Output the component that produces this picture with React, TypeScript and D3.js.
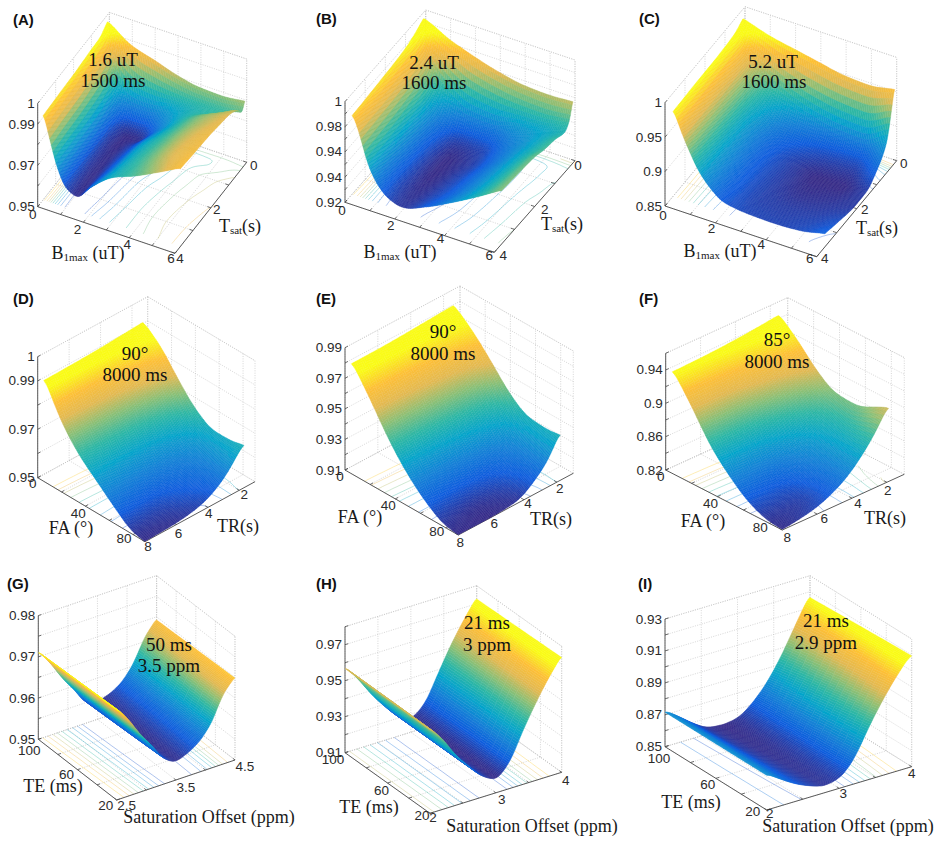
import React, { useMemo } from "react";
import * as d3 from "d3";

// ---------- shared axis values ----------
const b1Ticks = [0, 1, 2, 3, 4, 5, 6];
const b1Labels = [0, 2, 4, 6];
const tsatTicks = [0, 1, 2, 3, 4];
const tsatLabels = [0, 2, 4];
const faTicks = [0, 20, 40, 60, 80];
const faLabels = [0, 40, 80];
const trTicks = [2, 4, 6, 8];
const teTicks = [20, 40, 60, 80, 100];
const teLabels = [20, 60, 100];
const b1Grid = [0, 0.3, 0.6, 1, 1.5, 2, 3, 4, 5, 6];
const faGrid = [5, 20, 35, 50, 65, 80, 90];
const teGrid = [20, 60, 100];

// ---------- panel A ----------
const tsatA = [0.1, 0.25, 0.5, 1, 1.5, 2, 3, 3.7];
const zA = [
  [0.997, 0.9955, 0.9935, 0.991, 0.9895, 0.988, 0.984, 0.9815, 0.981, 0.982],
  [0.9965, 0.992, 0.987, 0.983, 0.9795, 0.978, 0.976, 0.975, 0.975, 0.977],
  [0.9955, 0.985, 0.976, 0.968, 0.966, 0.966, 0.9695, 0.973, 0.9755, 0.981],
  [0.995, 0.984, 0.971, 0.9605, 0.9568, 0.957, 0.966, 0.974, 0.98, 0.984],
  [0.9945, 0.983, 0.97, 0.9588, 0.9568, 0.9588, 0.9675, 0.975, 0.981, 0.985],
  [0.994, 0.982, 0.9695, 0.9588, 0.957, 0.9595, 0.9695, 0.976, 0.982, 0.986],
  [0.9935, 0.981, 0.969, 0.9592, 0.9568, 0.961, 0.971, 0.977, 0.983, 0.987],
  [0.993, 0.98, 0.9685, 0.9595, 0.957, 0.963, 0.972, 0.9765, 0.982, 0.988],
];
// ---------- panel B ----------
const tsatB = [0.1, 0.25, 0.5, 1, 1.5, 2, 3, 3.65];
const zB = [
  [0.9956, 0.994, 0.992, 0.988, 0.985, 0.982, 0.976, 0.972, 0.971, 0.972],
  [0.995, 0.989, 0.982, 0.976, 0.97, 0.965, 0.96, 0.957, 0.956, 0.958],
  [0.9935, 0.98, 0.966, 0.952, 0.943, 0.937, 0.936, 0.942, 0.946, 0.952],
  [0.9905, 0.975, 0.957, 0.94, 0.929, 0.923, 0.925, 0.935, 0.945, 0.9555],
  [0.989, 0.973, 0.955, 0.937, 0.926, 0.921, 0.924, 0.934, 0.946, 0.957],
  [0.988, 0.972, 0.953, 0.936, 0.925, 0.921, 0.925, 0.935, 0.947, 0.96],
  [0.986, 0.971, 0.951, 0.934, 0.925, 0.922, 0.927, 0.937, 0.949, 0.962],
  [0.985, 0.97, 0.95, 0.935, 0.926, 0.923, 0.93, 0.94, 0.951, 0.963],
];
// ---------- panel C ----------
const tsatC = [0.1, 0.25, 0.5, 1, 1.5, 2, 3, 3.6];
const zC = [
  [0.987, 0.985, 0.983, 0.98, 0.9775, 0.975, 0.9685, 0.961, 0.959, 0.963],
  [0.985, 0.975, 0.965, 0.955, 0.945, 0.938, 0.928, 0.922, 0.92, 0.935],
  [0.983, 0.96, 0.945, 0.928, 0.912, 0.9, 0.885, 0.877, 0.875, 0.895],
  [0.981, 0.955, 0.935, 0.913, 0.893, 0.878, 0.864, 0.858, 0.857, 0.871],
  [0.98, 0.954, 0.932, 0.906, 0.885, 0.871, 0.858, 0.852, 0.852, 0.858],
  [0.98, 0.952, 0.93, 0.904, 0.883, 0.869, 0.858, 0.853, 0.854, 0.857],
  [0.979, 0.951, 0.928, 0.902, 0.881, 0.868, 0.859, 0.858, 0.859, 0.864],
  [0.978, 0.95, 0.927, 0.9, 0.879, 0.866, 0.861, 0.86, 0.862, 0.87],
];
// ---------- panel D ----------
const trD = [1.7, 2.3, 3.2, 4.5, 6.2, 8];
const zD = [
  [0.994, 0.9885, 0.9795, 0.9715, 0.9672, 0.9675, 0.9694],
  [0.994, 0.986, 0.976, 0.9675, 0.9632, 0.963, 0.9635],
  [0.9938, 0.9845, 0.9735, 0.9645, 0.9595, 0.9575, 0.957],
  [0.9936, 0.982, 0.971, 0.9628, 0.9572, 0.9542, 0.952],
  [0.9935, 0.98, 0.97, 0.9625, 0.956, 0.9515, 0.9504],
  [0.9934, 0.979, 0.9695, 0.963, 0.9565, 0.951, 0.95],
];
// ---------- panel E ----------
const trE = [1.8, 2.3, 3.2, 4.5, 6.2, 8];
const zE = [
  [0.9854, 0.9755, 0.9635, 0.9505, 0.9425, 0.9418, 0.9442],
  [0.9852, 0.974, 0.959, 0.943, 0.9335, 0.9315, 0.931],
  [0.985, 0.9715, 0.954, 0.937, 0.925, 0.9215, 0.92],
  [0.9845, 0.969, 0.951, 0.9335, 0.92, 0.913, 0.911],
  [0.984, 0.967, 0.948, 0.931, 0.9185, 0.9105, 0.91],
  [0.984, 0.9655, 0.946, 0.9305, 0.919, 0.9115, 0.91],
];
// ---------- panel F ----------
const trF = [1.9, 2.3, 3.2, 4.5, 6.2, 8];
const zF = [
  [0.954, 0.934, 0.91, 0.8965, 0.8966, 0.9076, 0.9156],
  [0.953, 0.931, 0.906, 0.888, 0.884, 0.892, 0.899],
  [0.951, 0.926, 0.898, 0.876, 0.868, 0.869, 0.872],
  [0.9488, 0.92, 0.888, 0.861, 0.848, 0.844, 0.845],
  [0.947, 0.913, 0.878, 0.851, 0.832, 0.825, 0.828],
  [0.9456, 0.912, 0.876, 0.851, 0.832, 0.822, 0.82],
];
// ---------- panel G ----------
const offsetG = [2.5, 2.7, 2.9, 3.1, 3.3, 3.5, 3.7, 3.9, 4.1, 4.3, 4.5];
const zG = [
  [0.9722, 0.9718, 0.9714],
  [0.9685, 0.968, 0.9675],
  [0.964, 0.9635, 0.963],
  [0.9602, 0.9597, 0.9592],
  [0.9562, 0.9557, 0.9553],
  [0.9546, 0.9545, 0.9544],
  [0.9556, 0.9554, 0.9552],
  [0.9575, 0.9572, 0.957],
  [0.961, 0.9607, 0.9605],
  [0.9668, 0.9664, 0.966],
  [0.9702, 0.9699, 0.9696],
];
// ---------- panel H ----------
const offsetH = [2, 2.2, 2.4, 2.6, 2.8, 3, 3.2, 3.4, 3.6, 3.8, 4];
const zH = [
  [0.9572, 0.9575, 0.9577],
  [0.9485, 0.9485, 0.9485],
  [0.9375, 0.9378, 0.938],
  [0.929, 0.929, 0.929],
  [0.9215, 0.9215, 0.9215],
  [0.918, 0.918, 0.918],
  [0.9245, 0.924, 0.9235],
  [0.939, 0.938, 0.937],
  [0.9525, 0.9518, 0.951],
  [0.9645, 0.9638, 0.963],
  [0.9748, 0.9742, 0.9737],
];
// ---------- panel I ----------
const offsetI = [2, 2.2, 2.4, 2.6, 2.8, 3, 3.2, 3.4, 3.6, 3.8, 4];
const zI = [
  [0.8726, 0.8726, 0.8726],
  [0.8665, 0.8662, 0.866],
  [0.861, 0.86, 0.859],
  [0.857, 0.8555, 0.854],
  [0.8545, 0.8537, 0.853],
  [0.8565, 0.8555, 0.8545],
  [0.8655, 0.863, 0.861],
  [0.882, 0.877, 0.871],
  [0.897, 0.891, 0.885],
  [0.91, 0.906, 0.902],
  [0.921, 0.92, 0.9188],
];

const parulaStops = ["#352a87", "#0f5cdd", "#1481d6", "#06a4ca", "#2eb7a4", "#87bf77", "#e2b952", "#fdbf36", "#f9fb15"];

const SANS = "'Liberation Sans', Arial, sans-serif";
const SERIF = "'Liberation Serif', 'Times New Roman', serif";

type Pt = [number, number];
type Panel = {
  tag: string; tagPos: Pt;
  L: Pt; F: Pt; R: Pt; H: number;
  xDomain: [number, number]; yDomain: [number, number]; zDomain: [number, number];
  xs: number[]; ys: number[]; z: number[][];
  xTicks: number[]; xLabels: number[]; yTicks: number[]; yLabels: number[];
  zTicks: number[]; zLabels: [number, string][];
  xOffs: Pt[]; yOffs: Pt[];
  xTitle: React.ReactNode; xTitlePos: Pt; yTitle: React.ReactNode; yTitlePos: Pt;
  note: string[]; notePos: Pt[];
  res: [number, number]; soft: [number, number]; topTrim: number;
};

const sub = (a: string, s: string, b: string) => (
  <>
    {a}
    <tspan dy={4} fontSize={11}>{s}</tspan>
    <tspan dy={-4}>{b}</tspan>
  </>
);
const stepped = (a: number, b: number, step: number) => d3.range(a, b + step / 2, step).map((v) => +v.toFixed(4));
const zt = (vals: number[], labels?: string[]) => vals.map((v, i) => [v, labels ? labels[i] : String(v)] as [number, string]);

const panels: Panel[] = [
  {
    tag: "(A)", tagPos: [13, 19], L: [37.7, 206.7], F: [175, 253.3], R: [246.7, 162.3], H: 103.3,
    xDomain: [0, 6], yDomain: [4, 0], zDomain: [0.95, 1], xs: b1Grid, ys: tsatA, z: zA,
    xTicks: b1Ticks, xLabels: b1Labels, yTicks: tsatTicks, yLabels: tsatLabels,
    zTicks: stepped(0.95, 1, 0.01), zLabels: zt([0.95, 0.97, 0.99, 1]),
    xOffs: [[-5, 8], [-6, 7], [-2, 7], [-4, 5]], yOffs: [[7, 3], [6, 2], [5, 5]],
    xTitle: sub("B", "1max", " (uT)"), xTitlePos: [88, 253], yTitle: sub("T", "sat", "(s)"), yTitlePos: [240, 226],
    note: ["1.6 uT", "1500 ms"], notePos: [[113, 59], [113, 80]], res: [84, 84], soft: [1, 1], topTrim: 0.1,
  },
  {
    tag: "(B)", tagPos: [316, 18], L: [345, 202.3], F: [494.3, 252.3], R: [575, 160.7], H: 100.7,
    xDomain: [0, 6], yDomain: [4, 0], zDomain: [0.92, 1], xs: b1Grid, ys: tsatB, z: zB,
    xTicks: b1Ticks, xLabels: b1Labels, yTicks: tsatTicks, yLabels: tsatLabels,
    zTicks: stepped(0.92, 1, 0.01), zLabels: zt([0.92, 0.94, 0.96, 0.98, 1], ["0.92", "0.94", "0.94", "0.98", "1"]),
    xOffs: [[-3, 8], [-4, 7], [-4, 3], [-5, 3]], yOffs: [[3, 5], [10, 3], [9, 3]],
    xTitle: sub("B", "1max", " (uT)"), xTitlePos: [400, 252], yTitle: sub("T", "sat", "(s)"), yTitlePos: [562, 224],
    note: ["2.4 uT", "1600 ms"], notePos: [[434, 62], [434, 82]], res: [84, 84], soft: [1, 1], topTrim: 0.1,
  },
  {
    tag: "(C)", tagPos: [639, 18], L: [665, 206], F: [816.7, 256.7], R: [896.7, 160.7], H: 103.3,
    xDomain: [0, 6], yDomain: [4, 0], zDomain: [0.85, 1], xs: b1Grid, ys: tsatC, z: zC,
    xTicks: b1Ticks, xLabels: b1Labels, yTicks: tsatTicks, yLabels: tsatLabels,
    zTicks: stepped(0.85, 1, 0.05), zLabels: zt([0.85, 0.9, 0.95, 1]),
    xOffs: [[-2, 9], [-4, 6], [-5, 5], [-7, 2]], yOffs: [[7, 3], [8, 1], [8, 2]],
    xTitle: sub("B", "1max", " (uT)"), xTitlePos: [720, 251], yTitle: sub("T", "sat", "(s)"), yTitlePos: [877, 228],
    note: ["5.2 uT", "1600 ms"], notePos: [[773, 61], [774, 81]], res: [84, 84], soft: [1, 1], topTrim: 0.1,
  },
  {
    tag: "(D)", tagPos: [13, 298], L: [37.7, 477.7], F: [145, 541.7], R: [255, 481.7], H: 121,
    xDomain: [0, 90], yDomain: [8, 1], zDomain: [0.95, 1], xs: faGrid, ys: trD, z: zD,
    xTicks: faTicks, xLabels: faLabels, yTicks: trTicks, yLabels: trTicks,
    zTicks: stepped(0.95, 1, 0.01), zLabels: zt([0.95, 0.97, 0.99, 1]),
    xOffs: [[-5, 6], [-7, 7], [-9, 4]], yOffs: [[5, 4], [1, 6], [2, 9], [3, 5]],
    xTitle: "FA (°)", xTitlePos: [71, 528], yTitle: "TR(s)", yTitlePos: [238, 526],
    note: ["90°", "8000 ms"], notePos: [[135, 353], [135, 374]], res: [90, 44], soft: [3, 1.5], topTrim: 0.1,
  },
  {
    tag: "(E)", tagPos: [316, 298], L: [345, 470], F: [458.3, 535], R: [573.3, 473.3], H: 122.3,
    xDomain: [0, 90], yDomain: [8, 1], zDomain: [0.91, 0.99], xs: faGrid, ys: trE, z: zE,
    xTicks: faTicks, xLabels: faLabels, yTicks: trTicks, yLabels: trTicks,
    zTicks: stepped(0.91, 0.99, 0.01), zLabels: zt([0.91, 0.93, 0.95, 0.97, 0.99]),
    xOffs: [[-5, 6], [-7, 7], [-9, 4]], yOffs: [[3, 6], [4, 4], [3, 6], [2, 7]],
    xTitle: "FA (°)", xTitlePos: [360, 517], yTitle: "TR(s)", yTitlePos: [551, 519],
    note: ["90°", "8000 ms"], notePos: [[443, 331], [443, 353]], res: [90, 44], soft: [3, 1.5], topTrim: 0.1,
  },
  {
    tag: "(F)", tagPos: [639, 298], L: [665.7, 470], F: [782.3, 530], R: [904.3, 474.3], H: 116.7,
    xDomain: [0, 90], yDomain: [8, 1], zDomain: [0.82, 0.96], xs: faGrid, ys: trF, z: zF,
    xTicks: faTicks, xLabels: faLabels, yTicks: trTicks, yLabels: trTicks,
    zTicks: stepped(0.82, 0.96, 0.02), zLabels: zt([0.82, 0.86, 0.9, 0.94]),
    xOffs: [[-5, 6], [-7, 7], [-9, 4]], yOffs: [[1, 8], [6, 5], [7, 4], [5, 7]],
    xTitle: "FA (°)", xTitlePos: [703, 521], yTitle: "TR(s)", yTitlePos: [885, 518],
    note: ["85°", "8000 ms"], notePos: [[777, 339], [777, 361]], res: [90, 44], soft: [3, 1.5], topTrim: 0.1,
  },
  {
    tag: "(G)", tagPos: [7, 583], L: [38.3, 739.3], F: [116.7, 800], R: [235, 760], H: 123.7,
    xDomain: [100, 20], yDomain: [2.5, 4.5], zDomain: [0.95, 0.98], xs: teGrid, ys: offsetG, z: zG,
    xTicks: teTicks, xLabels: teLabels, yTicks: [2.5, 3, 3.5, 4, 4.5], yLabels: [2.5, 3.5, 4.5],
    zTicks: stepped(0.95, 0.98, 0.005), zLabels: zt([0.95, 0.96, 0.97, 0.98]),
    xOffs: [[-11, 5], [-11, 5], [-9, 11]], yOffs: [[10, 5], [10, 7], [10, 6]],
    xTitle: "TE (ms)", xTitlePos: [53, 786], yTitle: "Saturation Offset (ppm)", yTitlePos: [209, 817],
    note: ["50 ms", "3.5 ppm"], notePos: [[169, 644], [169, 665]], res: [14, 130], soft: [0, 2], topTrim: 0.03,
  },
  {
    tag: "(H)", tagPos: [316, 583], L: [345, 752.7], F: [430, 813.3], R: [561.7, 772.3], H: 126,
    xDomain: [100, 20], yDomain: [2, 4], zDomain: [0.91, 0.98], xs: teGrid, ys: offsetH, z: zH,
    xTicks: teTicks, xLabels: teLabels, yTicks: [2, 2.5, 3, 3.5, 4], yLabels: [2, 3, 4],
    zTicks: stepped(0.91, 0.98, 0.01), zLabels: zt([0.91, 0.93, 0.95, 0.97]),
    xOffs: [[-8, 2], [-6, 7], [-12, 7]], yOffs: [[3, 4], [6, 7], [4, 8]],
    xTitle: "TE (ms)", xTitlePos: [369, 807], yTitle: "Saturation Offset (ppm)", yTitlePos: [532, 826],
    note: ["21 ms", "3 ppm"], notePos: [[487, 622], [487, 644]], res: [14, 130], soft: [0, 2], topTrim: 0.08,
  },
  {
    tag: "(I)", tagPos: [638, 583], L: [665, 746.7], F: [766.7, 810], R: [911.7, 766.7], H: 127.7,
    xDomain: [100, 20], yDomain: [2, 4], zDomain: [0.85, 0.93], xs: teGrid, ys: offsetI, z: zI,
    xTicks: teTicks, xLabels: teLabels, yTicks: [2, 2.5, 3, 3.5, 4], yLabels: [2, 3, 4],
    zTicks: stepped(0.85, 0.93, 0.01), zLabels: zt([0.85, 0.87, 0.89, 0.91, 0.93]),
    xOffs: [[-14, 1], [-8, 6], [-6, 12]], yOffs: [[3, 3], [4, 5], [0, 7]],
    xTitle: "TE (ms)", xTitlePos: [691, 802], yTitle: "Saturation Offset (ppm)", yTitlePos: [848, 826],
    note: ["21 ms", "2.9 ppm"], notePos: [[826, 620], [826, 642]], res: [14, 130], soft: [0, 3], topTrim: 0.08,
  },
];

// Monotone cubic resampling of one value list, for smooth drawing between read values
function pchip(xs: number[], ys: number[], q: number[]): number[] {
  const n = xs.length;
  const h = d3.range(n - 1).map((i) => xs[i + 1] - xs[i]);
  const s = d3.range(n - 1).map((i) => (ys[i + 1] - ys[i]) / h[i]);
  const m = new Array(n).fill(0);
  m[0] = s[0];
  m[n - 1] = s[n - 2];
  for (let i = 1; i < n - 1; i++) {
    if (s[i - 1] * s[i] > 0) {
      const w1 = 2 * h[i] + h[i - 1];
      const w2 = h[i] + 2 * h[i - 1];
      m[i] = (w1 + w2) / (w1 / s[i - 1] + w2 / s[i]);
    }
  }
  return q.map((x) => {
    const i = Math.min(n - 2, Math.max(0, d3.bisectRight(xs, x) - 1));
    const t = (x - xs[i]) / h[i];
    const t2 = t * t;
    const t3 = t2 * t;
    return (2 * t3 - 3 * t2 + 1) * ys[i] + (t3 - 2 * t2 + t) * h[i] * m[i] + (-2 * t3 + 3 * t2) * ys[i + 1] + (t3 - t2) * h[i] * m[i + 1];
  });
}

function Surface3D({ p }: { p: Panel }) {
  const { paths, contours, grid, axes, ticks } = useMemo(() => {
    const ux = d3.scaleLinear().domain(p.xDomain).range([0, 1]);
    const vy = d3.scaleLinear().domain(p.yDomain).range([0, 1]);
    const wz = d3.scaleLinear().domain(p.zDomain).range([0, 1]);
    const U: Pt = [p.F[0] - p.L[0], p.F[1] - p.L[1]];
    const V: Pt = [p.R[0] - p.F[0], p.R[1] - p.F[1]];
    const proj = (u: number, v: number, w: number): Pt => [p.L[0] + u * U[0] + v * V[0], p.L[1] + u * U[1] + v * V[1] - w * p.H];

    const [Nx, Ny] = p.res;
    const [x0, x1] = d3.extent(p.xs) as [number, number];
    const [y0, y1] = d3.extent(p.ys) as [number, number];
    const qx = d3.range(Nx + 1).map((i) => x0 + ((x1 - x0) * i) / Nx);
    const qy = d3.range(Ny + 1).map((i) => y0 + ((y1 - y0) * i) / Ny);
    const rowsFine = p.z.map((row) => pchip(p.xs, row, qx));
    const cols = qx.map((_, c) => pchip(p.ys, rowsFine.map((r) => r[c]), qy));
    const flat: number[] = [];
    for (let iy = 0; iy <= Ny; iy++) for (let ix = 0; ix <= Nx; ix++) flat.push(cols[ix][iy]);
    d3.blur2({ data: flat, width: Nx + 1, height: Ny + 1 }, p.soft[0], p.soft[1]);
    const val = (ix: number, iy: number) => flat[iy * (Nx + 1) + ix];

    const [mn, mx0] = d3.extent(p.z.flat()) as [number, number];
    const mx = mx0 - p.topTrim * (mx0 - mn);
    const colour = d3
      .scaleLinear<string>()
      .domain(parulaStops.map((_, i) => mn + ((mx - mn) * i) / (parulaStops.length - 1)))
      .range(parulaStops)
      .interpolate(d3.interpolateRgb)
      .clamp(true);

    const line = d3.line();
    const quads: { d: string; c: string; depth: number }[] = [];
    for (let ix = 0; ix < Nx; ix++) {
      for (let iy = 0; iy < Ny; iy++) {
        const corner = (a: number, b: number) => proj(ux(qx[a]), vy(qy[b]), wz(val(a, b)));
        const pts = [corner(ix, iy), corner(ix + 1, iy), corner(ix + 1, iy + 1), corner(ix, iy + 1)];
        const mean = (val(ix, iy) + val(ix + 1, iy) + val(ix + 1, iy + 1) + val(ix, iy + 1)) / 4;
        const cu = ux((qx[ix] + qx[ix + 1]) / 2);
        const cv = vy((qy[iy] + qy[iy + 1]) / 2);
        quads.push({ d: line(pts)! + "Z", c: colour(mean), depth: proj(cu, cv, 0)[1] });
      }
    }
    quads.sort((a, b) => d3.ascending(a.depth, b.depth));

    // floor contours
    const levels = d3.range(1, 10).map((i) => mn + ((mx - mn) * i) / 10);
    const cg = d3.contours().size([Nx + 1, Ny + 1]).thresholds(levels)(flat);
    const fx = (g: number) => ux(x0 + ((x1 - x0) * Math.min(Nx, Math.max(0, g - 0.5))) / Nx);
    const fy = (g: number) => vy(y0 + ((y1 - y0) * Math.min(Ny, Math.max(0, g - 0.5))) / Ny);
    const onEdge = (q: number[]) => q[0] <= 0.51 || q[1] <= 0.51 || q[0] >= Nx + 0.49 || q[1] >= Ny + 0.49;
    const cpaths: { d: string; c: string }[] = [];
    cg.forEach((g) => {
      let d = "";
      g.coordinates.forEach((poly) =>
        poly.forEach((ring) => {
          for (let i = 0; i < ring.length - 1; i++) {
            const a = ring[i];
            const b = ring[i + 1];
            if (onEdge(a) && onEdge(b)) continue;
            const A = proj(fx(a[0]), fy(a[1]), 0);
            const B = proj(fx(b[0]), fy(b[1]), 0);
            d += `M${A[0].toFixed(1)},${A[1].toFixed(1)}L${B[0].toFixed(1)},${B[1].toFixed(1)}`;
          }
        })
      );
      cpaths.push({ d, c: colour(g.value) });
    });

    // dotted grid on the floor and the two back walls
    const g: [Pt, Pt][] = [];
    p.xTicks.forEach((t) => {
      const u = ux(t);
      g.push([proj(u, 0, 0), proj(u, 1, 0)]);
      g.push([proj(u, 1, 0), proj(u, 1, 1)]);
    });
    p.yTicks.forEach((t) => {
      const v = vy(t);
      g.push([proj(0, v, 0), proj(1, v, 0)]);
      g.push([proj(0, v, 0), proj(0, v, 1)]);
    });
    p.zTicks.forEach((t) => {
      const w = wz(t);
      g.push([proj(0, 0, w), proj(0, 1, w)]);
      g.push([proj(0, 1, w), proj(1, 1, w)]);
    });
    g.push([proj(0, 1, 0), proj(0, 1, 1)], [proj(0, 0, 1), proj(0, 1, 1)], [proj(0, 1, 1), proj(1, 1, 1)], [proj(1, 1, 0), proj(1, 1, 1)], [proj(0, 1, 0), proj(1, 1, 0)], [proj(0, 0, 0), proj(0, 1, 0)]);

    const ax: [Pt, Pt][] = [
      [proj(0, 0, 0), proj(1, 0, 0)],
      [proj(1, 0, 0), proj(1, 1, 0)],
      [proj(0, 0, 0), proj(0, 0, 1)],
    ];
    const tk: [Pt, Pt][] = [];
    p.xTicks.forEach((t) => tk.push([proj(ux(t), 0, 0), proj(ux(t), 0.025, 0)]));
    p.yTicks.forEach((t) => tk.push([proj(1, vy(t), 0), proj(0.975, vy(t), 0)]));
    p.zTicks.forEach((t) => tk.push([proj(0, 0, wz(t)), proj(0, 0.025, wz(t))]));

    return { paths: quads, contours: cpaths, grid: g, axes: ax, ticks: tk };
  }, [p]);

  const ux = d3.scaleLinear().domain(p.xDomain).range([0, 1]);
  const vy = d3.scaleLinear().domain(p.yDomain).range([0, 1]);
  const wz = d3.scaleLinear().domain(p.zDomain).range([0, 1]);
  const U: Pt = [p.F[0] - p.L[0], p.F[1] - p.L[1]];
  const V: Pt = [p.R[0] - p.F[0], p.R[1] - p.F[1]];
  const tickFont = { fontFamily: SANS, fontSize: 13.5, fill: "#2b2b2b" };
  const seg = (s: [Pt, Pt]) => `M${s[0][0]},${s[0][1]}L${s[1][0]},${s[1][1]}`;

  return (
    <g>
      <path d={grid.map(seg).join("")} fill="none" stroke="#c4c4c4" strokeWidth={0.7} strokeDasharray="1 1.4" />
      {contours.map((c, i) => (
        <path key={i} d={c.d} fill="none" stroke={c.c} strokeWidth={0.7} opacity={0.5} />
      ))}
      <path d={axes.map(seg).join("")} fill="none" stroke="#4a4a4a" strokeWidth={0.9} />
      <path d={ticks.map(seg).join("")} fill="none" stroke="#4a4a4a" strokeWidth={0.8} />
      <g filter="url(#soft)">
        {paths.map((q, i) => (
          <path key={i} d={q.d} fill={q.c} stroke={q.c} strokeWidth={0.4} />
        ))}
      </g>
      {p.zLabels.map(([v, t]) => (
        <text key={v} x={p.L[0] - 3} y={p.L[1] - wz(v) * p.H} textAnchor="end" dominantBaseline="central" {...tickFont}>{t}</text>
      ))}
      {p.xLabels.map((v, i) => (
        <text key={v} x={p.L[0] + ux(v) * U[0] + p.xOffs[i][0]} y={p.L[1] + ux(v) * U[1] + p.xOffs[i][1]} textAnchor="middle" dominantBaseline="central" {...tickFont}>{v}</text>
      ))}
      {p.yLabels.map((v, i) => (
        <text key={v} x={p.F[0] + vy(v) * V[0] + p.yOffs[i][0]} y={p.F[1] + vy(v) * V[1] + p.yOffs[i][1]} textAnchor="middle" dominantBaseline="central" {...tickFont}>{v}</text>
      ))}
      <text x={p.xTitlePos[0]} y={p.xTitlePos[1]} textAnchor="middle" dominantBaseline="central" fontFamily={SERIF} fontSize={18} fill="#1a1a1a">{p.xTitle}</text>
      <text x={p.yTitlePos[0]} y={p.yTitlePos[1]} textAnchor="middle" dominantBaseline="central" fontFamily={SERIF} fontSize={18} fill="#1a1a1a">{p.yTitle}</text>
      {p.note.map((t, i) => (
        <text key={i} x={p.notePos[i][0]} y={p.notePos[i][1]} textAnchor="middle" dominantBaseline="central" fontFamily={SERIF} fontSize={19} fill="#111">{t}</text>
      ))}
      <text x={p.tagPos[0]} y={p.tagPos[1]} dominantBaseline="central" fontFamily={SANS} fontWeight={700} fontSize={15} fill="#111">{p.tag}</text>
    </g>
  );
}

export default function App() {
  return (
    <svg width={936} height={843} viewBox="0 0 936 843" style={{ position: "absolute", left: 0, top: 0, background: "#fff" }}>
      <defs>
        <filter id="soft" x="-5%" y="-5%" width="110%" height="110%">
          <feGaussianBlur stdDeviation="0.6" />
        </filter>
      </defs>
      {panels.map((p) => (
        <Surface3D key={p.tag} p={p} />
      ))}
    </svg>
  );
}
